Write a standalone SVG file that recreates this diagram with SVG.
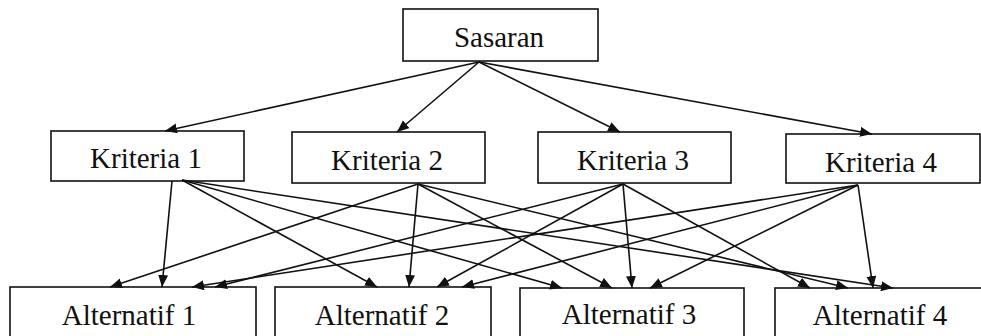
<svg xmlns="http://www.w3.org/2000/svg" width="981" height="336" viewBox="0 0 981 336">
<style>
rect.box{fill:#fff;stroke:#111;stroke-width:1.6}
text{font-family:"Liberation Serif","Times New Roman",serif;font-size:29px;fill:#111;text-anchor:middle}
.edges line{stroke:#111;stroke-width:1.6;marker-end:url(#ah)}
</style>
<defs>
<marker id="ah" markerUnits="userSpaceOnUse" markerWidth="14" markerHeight="12" refX="12" refY="5" orient="auto">
<path d="M0,0 L12,5 L0,10 z" fill="#111"/>
</marker>
</defs>
<rect width="981" height="336" fill="#fff"/>
<g id="sasaran"><rect class="box" x="403" y="9" width="195" height="52"/><text x="499" y="47">Sasaran</text></g>
<g id="kriteria1"><rect class="box" x="51" y="131" width="193" height="50"/><text x="146" y="168">Kriteria 1</text></g>
<g id="kriteria2"><rect class="box" x="292" y="132" width="193" height="51"/><text x="387" y="170">Kriteria 2</text></g>
<g id="kriteria3"><rect class="box" x="538" y="132" width="193" height="51"/><text x="633" y="170">Kriteria 3</text></g>
<g id="kriteria4"><rect class="box" x="786" y="134" width="194" height="49"/><text x="881" y="172">Kriteria 4</text></g>
<g id="alternatif1"><rect class="box" x="10" y="287" width="246" height="60"/><text x="129" y="325">Alternatif 1</text></g>
<g id="alternatif2"><rect class="box" x="275" y="287" width="216" height="60"/><text x="382" y="325">Alternatif 2</text></g>
<g id="alternatif3"><rect class="box" x="520" y="288" width="224" height="60"/><text x="629" y="324">Alternatif 3</text></g>
<g id="alternatif4"><rect class="box" x="775" y="288" width="220" height="60"/><text x="880" y="325">Alternatif 4</text></g>
<g class="edges" id="connectors">
<line x1="479" y1="62" x2="165" y2="131"/>
<line x1="479" y1="62" x2="397" y2="132"/>
<line x1="479" y1="62" x2="620" y2="132"/>
<line x1="479" y1="62" x2="872" y2="134"/>
<line x1="172" y1="181" x2="162" y2="287"/>
<line x1="182" y1="180" x2="377" y2="287"/>
<line x1="182" y1="180" x2="562" y2="288"/>
<line x1="182" y1="180" x2="893" y2="288"/>
<line x1="418" y1="184" x2="110" y2="287"/>
<line x1="418" y1="184" x2="409" y2="287"/>
<line x1="418" y1="184" x2="612" y2="288"/>
<line x1="418" y1="184" x2="848" y2="288"/>
<line x1="623" y1="184" x2="215" y2="287"/>
<line x1="623" y1="184" x2="437" y2="287"/>
<line x1="623" y1="184" x2="632" y2="288"/>
<line x1="623" y1="184" x2="810" y2="288"/>
<line x1="858" y1="185" x2="192" y2="287"/>
<line x1="858" y1="185" x2="462" y2="287"/>
<line x1="858" y1="185" x2="650" y2="288"/>
<line x1="858" y1="185" x2="873" y2="288"/>
</g>
</svg>
